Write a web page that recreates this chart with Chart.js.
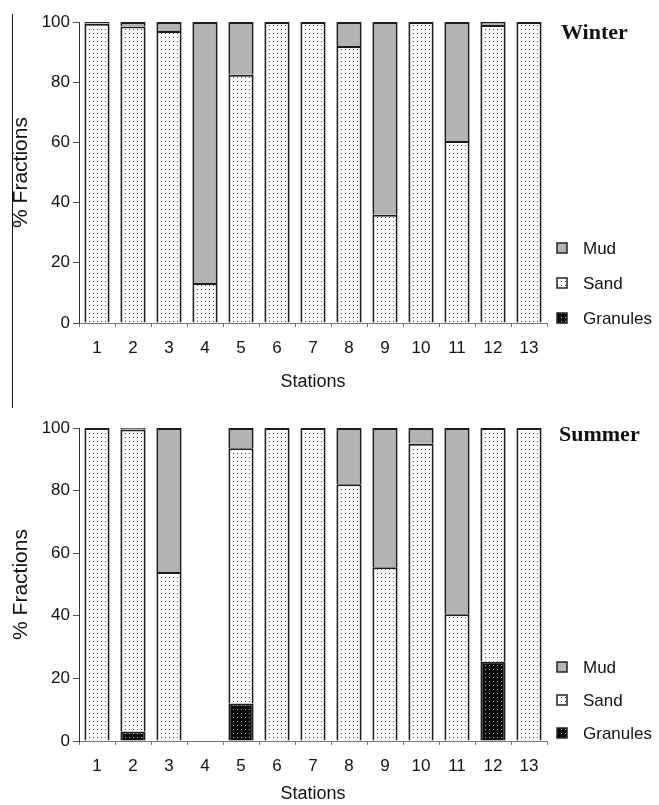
<!DOCTYPE html>
<html><head><meta charset="utf-8">
<script src="https://cdn.jsdelivr.net/npm/chart.js@4.4.1/dist/chart.umd.min.js"></script>
<style>
html,body{margin:0;padding:0;background:#fff;}
#wrap{position:relative;width:659px;height:805px;overflow:hidden;background:#fff;}
#c1{position:absolute;left:0;top:0;}
#c2{position:absolute;left:0;top:400px;}
#vline{position:absolute;left:12px;top:14px;width:1px;height:394px;background:#111;}
</style></head><body>
<div id="wrap"><div id="vline"></div>
<canvas id="c1" width="659" height="400"></canvas>
<canvas id="c2" width="659" height="405"></canvas></div>
<script>
const stations = ['1','2','3','4','5','6','7','8','9','10','11','12','13'];
const seriesNames = ['Granules','Sand','Mud'];
const winterGranules = [0,0,0,0,0,0,0,0,0,0,0,0,0];
const winterSand     = [99.4,98.5,97,13.3,82.5,100,100,92,36,100,60.5,99,100];
const winterMud      = [0.6,1.5,3,86.7,17.5,0,0,8,64,0,39.5,1,0];
const summerGranules = [0,3,0,0,12,0,0,0,0,0,0,25.3,0];
const summerSand     = [100,96.5,54,0,81.5,100,100,82,55.5,95,40.5,74.7,100];
const summerMud      = [0,0.5,46,0,6.5,0,0,18,44.5,5,59.5,0,0];
const yTicks = [0,20,40,60,80,100];

const SANS = 'Arial, "Liberation Sans", sans-serif';
const SERIF = '"Times New Roman", "Liberation Serif", serif';

function makePattern(bg, dot){
  const c = document.createElement('canvas');
  c.width = 4; c.height = 4;
  const x = c.getContext('2d');
  x.fillStyle = bg; x.fillRect(0,0,4,4);
  x.fillStyle = dot; x.fillRect(1,1,1,1);
  return x.createPattern(c,'repeat');
}
const sandFill = makePattern('#ffffff','#444444');
const granFill = makePattern('#0a0a0a','#bbbbbb');
const mudFill = '#b3b3b3';
const fills = [granFill, sandFill, mudFill];

const overlay = {
  id:'overlay',
  afterDraw(chart, args, o){
    const ctx = chart.ctx;
    ctx.save();
    ctx.fillStyle = '#111';
    ctx.font = 'bold 22px ' + SERIF;
    ctx.textBaseline = 'middle';
    ctx.textAlign = 'left';
    ctx.fillText(o.title, o.titleX, o.titleY);
    const items = [['Mud', mudFill],['Sand', sandFill],['Granules', granFill]];
    ctx.font = '17px ' + SANS;
    items.forEach((it,i)=>{
      const y = o.legendY[i];
      ctx.fillStyle = it[1];
      ctx.fillRect(557, y-5, 10, 10);
      ctx.strokeStyle = '#222'; ctx.lineWidth = 1.5;
      ctx.strokeRect(557, y-5, 10, 10);
      ctx.fillStyle = '#111';
      ctx.fillText(it[0], 583, y+1);
    });
    ctx.restore();
  }
};

function build(canvasId, g, s, m, cfg){
  const data = [g, s, m];
  return new Chart(document.getElementById(canvasId), {
    type:'bar',
    data:{
      labels: stations,
      datasets: seriesNames.map((n,i)=>({
        label:n, data:data[i], backgroundColor:fills[i],
        borderColor:'#1c1c1c', borderWidth:2, borderSkipped:'start',
        categoryPercentage:1, barPercentage:0.7
      }))
    },
    options:{
      responsive:false, animation:false, devicePixelRatio:1,
      layout:{padding:{left:0, top:cfg.top, right:112, bottom:0}},
      plugins:{legend:{display:false}, tooltip:{enabled:false}, overlay:cfg.overlay},
      scales:{
        x:{stacked:true, offset:true,
          grid:{display:true, drawOnChartArea:false, drawTicks:true, tickLength:4, color:'#777', offset:true},
          border:{display:true, color:'#777', width:1},
          ticks:{color:'#111', font:{family:SANS, size:17}, padding:cfg.xpad, maxRotation:0, autoSkip:false},
          title:{display:true, text:'Stations', color:'#111', font:{family:SANS, size:18, lineHeight:1.2}, padding:{top:0, bottom:cfg.xtitlePad}},
          afterFit(sc){ sc.height = cfg.xh; }
        },
        y:{stacked:true, min:0, max:100,
          afterBuildTicks(sc){ sc.ticks = yTicks.map(v=>({value:v})); },
          grid:{drawOnChartArea:false, drawTicks:true, tickLength:6, color:'#555'},
          border:{display:true, color:'#333', width:1},
          ticks:{color:'#111', font:{family:SANS, size:17}, padding:3},
          title:{display:true, text:'% Fractions', color:'#111', font:{family:SANS, size:21, lineHeight:1.2}, padding:{top:9, bottom:0}},
          afterFit(sc){ sc.width = 79; }
        }
      }
    },
    plugins:[overlay]
  });
}

build('c1', winterGranules, winterSand, winterMud, {
  top:22, xh:77, xpad:11, xtitlePad:7,
  overlay:{title:'Winter', titleX:561, titleY:33, legendY:[248,283,318]}
});
build('c2', summerGranules, summerSand, summerMud, {
  top:28, xh:64, xpad:11, xtitlePad:0,
  overlay:{title:'Summer', titleX:559, titleY:35, legendY:[267,300,333]}
});
</script>
</body></html>
